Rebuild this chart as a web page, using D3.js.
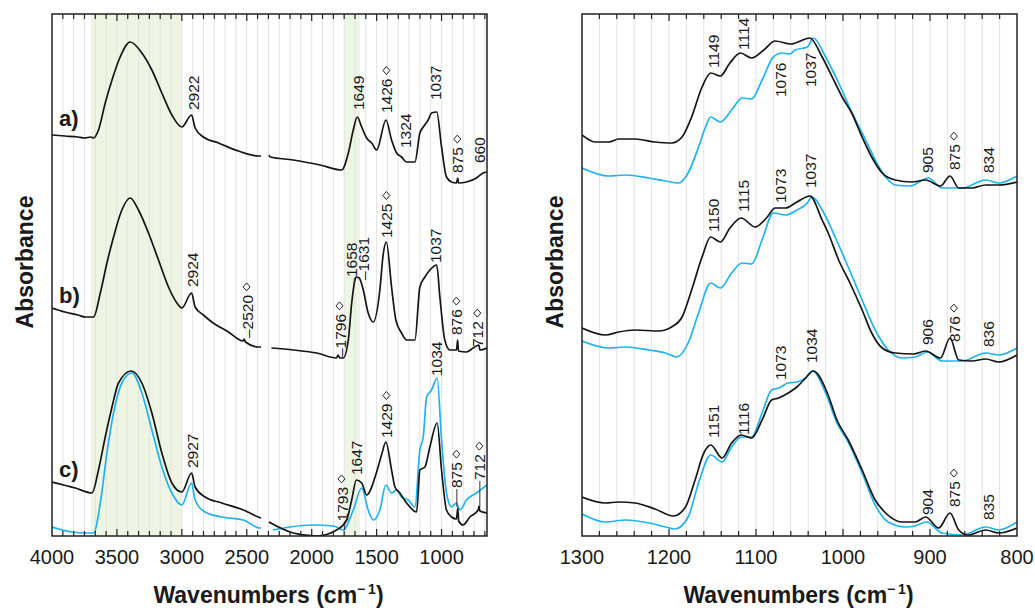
<!DOCTYPE html>
<html>
<head>
<meta charset="utf-8">
<title>FTIR spectra</title>
<script src="https://cdn.jsdelivr.net/npm/d3@7"></script>
<style>
body { margin: 0; background: #fff; }
text { font-family: "Liberation Sans", Arial, sans-serif; fill: #1a1a1a; }
.grid line { stroke: #e3e3e3; stroke-width: 1; }
.frame { fill: none; stroke: #222; stroke-width: 1.5; }
.tick { stroke: #222; stroke-width: 1.2; }
.spec { fill: none; stroke-width: 1.7; stroke-linejoin: round; }
.peak { font-size: 15.5px; }
.diamond { fill: none; stroke: #222; stroke-width: 1; }
.tick-label { font-size: 20px; }
.axis-title { font-size: 23px; font-weight: bold; }
.tag { font-family: "Liberation Sans Narrow", "Liberation Sans", Arial, sans-serif; font-size: 22px; font-weight: bold; }
</style>
</head>
<body>
<svg id="chart" width="1035" height="611"></svg>
<script>
// wavenumber (cm-1), absorbance (offset, a.u.) ; null = removed CO2 region
var leftA = [[4000,4.01],[3900,4.00],[3800,3.99],[3750,3.98],[3700,3.99],[3680,3.98],[3642,4.06],[3590,4.33],[3538,4.56],[3475,4.79],[3398,4.94],[3308,4.83],[3231,4.66],[3154,4.43],[3077,4.21],[3000,4.09],[2925,4.21],[2898,4.08],[2834,3.99],[2718,3.93],[2565,3.85],[2411,3.80],[2390,3.80],[2360,null],[2330,3.81],[2320,3.79],[2142,3.76],[1936,3.71],[1769,3.66],[1718,3.83],[1680,4.06],[1649,4.19],[1615,4.09],[1577,3.98],[1538,3.93],[1500,3.86],[1428,4.16],[1385,3.96],[1346,3.83],[1308,3.79],[1269,3.74],[1205,3.74],[1167,4.03],[1141,4.09],[1103,4.16],[1077,4.23],[1037,4.24],[1000,3.89],[962,3.59],[923,3.54],[885,3.53],[875,3.58],[870,3.53],[808,3.54],[731,3.58],[680,3.63],[650,3.64]];
var leftB = [[4000,2.28],[3900,2.24],[3800,2.21],[3744,2.19],[3680,2.19],[3628,2.43],[3577,2.73],[3526,2.99],[3462,3.26],[3398,3.38],[3334,3.26],[3257,3.03],[3180,2.76],[3103,2.49],[3038,2.33],[3000,2.28],[2925,2.43],[2898,2.29],[2834,2.21],[2769,2.14],[2641,2.04],[2530,1.95],[2520,1.97],[2510,1.94],[2411,1.89],[2390,1.89],[2360,null],[2310,1.88],[2141,1.86],[1962,1.83],[1810,1.78],[1796,1.81],[1785,1.78],[1757,1.78],[1718,1.96],[1692,2.33],[1667,2.56],[1658,2.59],[1634,2.58],[1603,2.46],[1565,2.23],[1526,2.14],[1475,2.46],[1450,2.81],[1425,2.94],[1385,2.49],[1352,2.16],[1308,2.03],[1269,1.96],[1205,1.96],[1167,2.49],[1128,2.59],[1090,2.66],[1037,2.71],[1013,2.39],[975,1.96],[936,1.86],[885,1.86],[876,1.96],[870,1.85],[808,1.84],[757,1.88],[712,1.91],[705,1.86],[650,1.88]];
var leftCblack = [[4000,0.54],[3821,0.48],[3692,0.43],[3642,0.66],[3590,0.99],[3538,1.29],[3488,1.53],[3390,1.65],[3308,1.53],[3231,1.23],[3154,0.83],[3077,0.53],[3000,0.44],[2925,0.63],[2898,0.49],[2821,0.39],[2692,0.33],[2526,0.26],[2411,0.19],[2390,0.18],[2360,null],[2330,0.14],[2142,0.03],[1962,0.00],[1808,0.06],[1731,0.16],[1692,0.36],[1656,0.56],[1615,0.53],[1577,0.41],[1500,0.64],[1460,0.82],[1429,0.94],[1385,0.66],[1359,0.49],[1321,0.43],[1269,0.33],[1192,0.24],[1167,0.66],[1128,0.69],[1090,0.89],[1034,1.13],[1000,0.66],[962,0.26],[923,0.19],[885,0.17],[875,0.28],[868,0.15],[834,0.11],[782,0.19],[718,0.26],[712,0.30],[705,0.25],[650,0.23]];
var leftCblue = [[4000,0.09],[3846,0.04],[3744,0.03],[3680,0.03],[3628,0.33],[3577,0.83],[3526,1.23],[3462,1.53],[3385,1.63],[3308,1.43],[3231,1.06],[3154,0.69],[3077,0.43],[3000,0.31],[2925,0.53],[2898,0.36],[2821,0.24],[2692,0.19],[2526,0.16],[2398,0.08],[2390,0.08],[2360,null],[2300,0.06],[2167,0.09],[1988,0.11],[1834,0.10],[1757,0.06],[1680,0.26],[1615,0.48],[1565,0.26],[1526,0.16],[1475,0.26],[1429,0.51],[1385,0.43],[1346,0.46],[1308,0.39],[1257,0.36],[1205,0.29],[1167,0.86],[1141,0.99],[1115,1.39],[1077,1.46],[1034,1.58],[1000,0.96],[962,0.43],[923,0.29],[885,0.33],[859,0.26],[808,0.36],[731,0.43],[650,0.51]];

var rightAblack = [[1300,4.01],[1285,3.94],[1269,3.94],[1258,3.97],[1239,3.97],[1216,3.94],[1197,3.93],[1185,3.99],[1174,4.19],[1162,4.49],[1152,4.63],[1141,4.60],[1130,4.73],[1118,4.83],[1105,4.78],[1091,4.86],[1078,4.95],[1060,4.92],[1038,4.98],[1024,4.79],[1009,4.53],[1001,4.39],[990,4.23],[978,3.99],[967,3.79],[955,3.63],[940,3.56],[921,3.54],[905,3.56],[888,3.50],[877,3.60],[867,3.48],[852,3.48],[836,3.51],[821,3.51],[800,3.54]];
var rightAblue = [[1300,3.68],[1269,3.60],[1250,3.61],[1223,3.58],[1204,3.55],[1189,3.53],[1178,3.63],[1166,3.89],[1158,4.09],[1152,4.19],[1141,4.14],[1128,4.26],[1116,4.38],[1105,4.37],[1093,4.56],[1080,4.79],[1070,4.83],[1061,4.82],[1055,4.86],[1041,4.89],[1034,4.98],[1020,4.79],[1005,4.53],[990,4.24],[974,3.96],[963,3.76],[951,3.59],[940,3.51],[923,3.50],[902,3.58],[886,3.48],[863,3.48],[836,3.56],[821,3.53],[800,3.60]];
var rightBblack = [[1300,2.08],[1273,2.01],[1258,2.04],[1239,2.06],[1212,2.05],[1197,2.09],[1185,2.19],[1174,2.46],[1162,2.79],[1152,2.99],[1141,2.94],[1130,3.08],[1117,3.18],[1101,3.09],[1087,3.19],[1078,3.28],[1066,3.28],[1053,3.34],[1038,3.40],[1024,3.16],[1017,3.03],[1005,2.76],[992,2.53],[978,2.26],[967,2.03],[955,1.88],[940,1.83],[919,1.82],[905,1.85],[888,1.78],[877,1.98],[867,1.76],[852,1.75],[836,1.77],[821,1.74],[800,1.81]];
var rightBblue = [[1300,1.95],[1269,1.88],[1250,1.89],[1223,1.86],[1204,1.83],[1191,1.79],[1178,1.93],[1166,2.23],[1152,2.53],[1141,2.48],[1128,2.63],[1116,2.73],[1105,2.72],[1093,2.96],[1080,3.23],[1066,3.21],[1053,3.26],[1041,3.33],[1036,3.39],[1022,3.23],[1009,2.99],[994,2.69],[978,2.36],[963,2.06],[948,1.86],[932,1.78],[917,1.79],[903,1.84],[886,1.75],[863,1.75],[836,1.83],[821,1.81],[800,1.88]];
var rightCblack = [[1300,0.39],[1273,0.33],[1258,0.34],[1239,0.33],[1216,0.27],[1195,0.20],[1181,0.29],[1170,0.56],[1160,0.83],[1152,0.91],[1139,0.78],[1128,0.93],[1117,1.01],[1105,0.98],[1093,1.16],[1082,1.36],[1074,1.38],[1063,1.43],[1053,1.49],[1045,1.56],[1034,1.65],[1018,1.43],[1007,1.16],[994,0.96],[978,0.66],[963,0.36],[951,0.23],[932,0.14],[917,0.14],[905,0.19],[890,0.08],[877,0.23],[867,0.06],[856,0.01],[836,0.06],[821,0.03],[800,0.08]];
var rightCblue = [[1300,0.22],[1273,0.14],[1250,0.16],[1223,0.13],[1204,0.09],[1193,0.07],[1178,0.19],[1166,0.53],[1152,0.81],[1139,0.74],[1128,0.89],[1117,0.99],[1105,0.99],[1093,1.23],[1082,1.46],[1074,1.48],[1063,1.53],[1053,1.54],[1043,1.58],[1035,1.65],[1020,1.43],[1007,1.13],[994,0.94],[978,0.63],[963,0.31],[948,0.14],[928,0.09],[917,0.10],[904,0.14],[886,0.03],[863,0.01],[836,0.09],[821,0.06],[800,0.14]];

// peak labels: [placed at wavenumber, bottom level, text]; "◇" marks a calcite band
var leftLabels = [
  [2913,4.26,"2922"],[1644,4.26,"1649"],[1421,4.23,"1426 ◇"],[1282,3.88,"1324"],[1044,4.36,"1037"],[875,3.63,"875 ◇"],[705,3.73,"660"],
  [2921,2.49,"2924"],[2498,1.98,"–2520 ◇"],[1782,1.79,"–1796 ◇"],[1698,2.59,"1658"],[1605,2.56,"–1631"],[1421,2.98,"1425 ◇"],[1044,2.73,"1037"],[882,2.01,"876 ◇"],[721,1.89,"712 ◇"],
  [2921,0.68,"2927"],[1767,0.06,"–1793 ◇"],[1652,0.61,"1647"],[1421,0.98,"1429 ◇"],[1037,1.60,"1034"],[882,0.48,"875 ◇"],[705,0.56,"712 ◇"]
];
var leftLeaders = [[882,0.47,0.29],[705,0.55,0.29],[1672,2.58,2.52]];
var rightLabels = [
  [1149,4.68,"1149"],[1114,4.86,"1114"],[1072,4.39,"1076"],[1037,4.49,"1037"],[903,3.63,"905"],[872,3.66,"875 ◇"],[833,3.63,"834"],
  [1149,3.04,"1150"],[1114,3.24,"1115"],[1072,3.33,"1073"],[1037,3.48,"1037"],[903,1.91,"906"],[872,1.94,"876 ◇"],[833,1.89,"836"],
  [1149,0.98,"1151"],[1114,1.01,"1116"],[1072,1.56,"1073"],[1036,1.73,"1034"],[903,0.21,"904"],[872,0.29,"875 ◇"],[833,0.16,"835"]
];
var tags = [["a)",4.10],["b)",2.33],["c)",0.59]];
var leftTicks = [4000,3500,3000,2500,2000,1500,1000];
var rightTicks = [1300,1200,1100,1000,900,800];
var leftBands = [[3700,3000],[1752,1628]];

var svg = d3.select("#chart");
var plotTop = 14, plotBottom = 536;
var y = d3.scaleLinear().domain([0,5.22]).range([plotBottom, plotTop]);
var xL = d3.scaleLinear().domain([4000,650]).range([52,487]);
var xR = d3.scaleLinear().domain([1300,800]).range([582,1017]);

function drawPanel(id, x, grid, isMajor, ticks, bands, series, labels, leaders) {
  var r = x.range();
  var g = svg.append("g");
  g.append("clipPath").attr("id", id).append("rect")
    .attr("x", r[0]).attr("y", plotTop).attr("width", r[1]-r[0]).attr("height", plotBottom-plotTop);

  g.selectAll(".band").data(bands).enter().append("rect")
    .attr("x", function(d){ return x(d[0]); })
    .attr("width", function(d){ return x(d[1]) - x(d[0]); })
    .attr("y", plotTop).attr("height", plotBottom-plotTop)
    .attr("fill", "#eef5e3");

  g.append("g").attr("class","grid").selectAll("line").data(grid).enter().append("line")
    .attr("x1", function(d){ return x(d); }).attr("x2", function(d){ return x(d); })
    .attr("y1", plotTop).attr("y2", plotBottom);

  var line = d3.line()
    .defined(function(d){ return d[1] != null; })
    .x(function(d){ return x(d[0]); })
    .y(function(d){ return y(d[1]); })
    .curve(d3.curveMonotoneX);

  var sg = g.append("g").attr("clip-path", "url(#" + id + ")");
  series.forEach(function(s){
    sg.append("path").attr("class","spec").attr("stroke", s.color).attr("d", line(s.data));
  });

  g.append("rect").attr("class","frame")
    .attr("x", r[0]).attr("y", plotTop).attr("width", r[1]-r[0]).attr("height", plotBottom-plotTop);

  grid.forEach(function(v){
    var len = isMajor(v) ? 7 : 5;
    g.append("line").attr("class","tick").attr("x1", x(v)).attr("x2", x(v)).attr("y1", plotTop).attr("y2", plotTop+len);
    g.append("line").attr("class","tick").attr("x1", x(v)).attr("x2", x(v)).attr("y1", plotBottom).attr("y2", plotBottom-len);
  });

  g.selectAll(".tick-label").data(ticks).enter().append("text")
    .attr("class","tick-label").attr("x", function(d){ return x(d); }).attr("y", 564)
    .attr("text-anchor","middle").text(function(d){ return d; });

  leaders.forEach(function(l){
    g.append("line").attr("x1", x(l[0])).attr("x2", x(l[0])).attr("y1", y(l[1])).attr("y2", y(l[2]))
      .attr("stroke","#333").attr("stroke-width",1);
  });

  labels.forEach(function(d){
    var px = x(d[0]), py = y(d[1]);
    var parts = d[2].split("◇");
    var t = g.append("text").attr("class","peak")
      .attr("transform", "translate(" + px + "," + py + ") rotate(-90)")
      .attr("dy", "0.36em").text(parts[0].trim());
    if (parts.length > 1) {
      var len = t.node().getComputedTextLength();
      g.append("path").attr("class","diamond")
        .attr("transform", "translate(" + (px - 0.5) + "," + (py - len - 8) + ")")
        .attr("d", "M0,-4L3.5,0L0,4L-3.5,0Z");
    }
  });

  var cx = (r[0]+r[1])/2 - 1;
  var title = g.append("text").attr("class","axis-title").attr("x", cx).attr("y", 603).attr("text-anchor","middle");
  title.append("tspan").text("Wavenumbers (cm");
  title.append("tspan").attr("font-size","14px").attr("dy","-9").text("\u2212\u20091");
  title.append("tspan").attr("dy","9").text(")");

  g.append("text").attr("class","axis-title")
    .attr("transform", "translate(" + (r[0]-27) + "," + 262 + ") rotate(-90)")
    .attr("text-anchor","middle").attr("dy","0.35em").text("Absorbance");
}

var leftGrid = d3.range(1, 41).map(function(k){ return 4000 - k*500/6; }).filter(function(v){ return v > 660; });
drawPanel("clipL", xL, leftGrid, function(v){ return Math.abs(v/500 - Math.round(v/500)) < 1e-6; },
  leftTicks, leftBands,
  [{data:leftA,color:"#151515"},{data:leftB,color:"#151515"},{data:leftCblue,color:"#1fb4ef"},{data:leftCblack,color:"#151515"}],
  leftLabels, leftLeaders);

var rightGrid = d3.range(1280, 800, -20);
drawPanel("clipR", xR, rightGrid, function(v){ return v % 100 === 0; },
  rightTicks, [],
  [{data:rightAblue,color:"#1fb4ef"},{data:rightAblack,color:"#151515"},
   {data:rightBblue,color:"#1fb4ef"},{data:rightBblack,color:"#151515"},
   {data:rightCblue,color:"#1fb4ef"},{data:rightCblack,color:"#151515"}],
  rightLabels, []);

svg.selectAll(".tag").data(tags).enter().append("text").attr("class","tag")
  .attr("x", 59).attr("y", function(d){ return y(d[1]); }).text(function(d){ return d[0]; });
</script>
</body>
</html>
